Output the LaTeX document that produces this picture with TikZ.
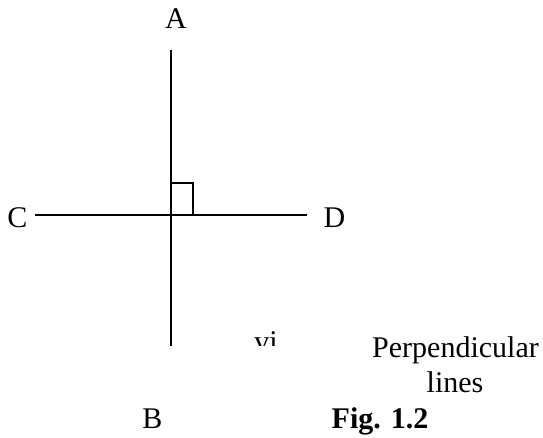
\documentclass[tikz,border=0pt]{standalone}
\usepackage{fontspec}
\setmainfont{Liberation Serif}
\begin{document}
\begin{tikzpicture}[x=1pt,y=-1pt,
  lbl/.style={anchor=base,inner sep=0pt,font=\fontsize{30}{34}\selectfont},
  ln/.style={line width=2pt}]
\useasboundingbox (0,0) rectangle (543,437);
\coordinate (top) at (170.5,49.5);
\coordinate (bot) at (170.5,346);
\coordinate (left) at (35,215);
\coordinate (right) at (306.5,215);
\coordinate (o) at (170.5,215);
\coordinate (sq) at (192.5,183);
\draw[ln] (top) -- (bot);
\draw[ln] (left) -- (right);
\draw[ln] (o |- sq) -- (sq) -- (sq |- o);
\node[lbl] (A) at (176,28) {A};
\node[lbl] (C) at (17.5,227) {C};
\node[lbl] (D) at (334.5,227) {D};
\node[lbl] (B) at (152.5,428) {B};
\begin{scope}
\clip (0,0) rectangle (543,345);
\node[lbl] (vi) at (266,351.5) {vi};
\end{scope}
\node[lbl] (P) at (455.5,357) {Perpendicular};
\node[lbl] (L) at (455,392) {lines};
\node[lbl,font=\fontsize{30}{34}\selectfont\bfseries] (F) at (380,428) {Fig. 1.2};
\end{tikzpicture}
\end{document}
